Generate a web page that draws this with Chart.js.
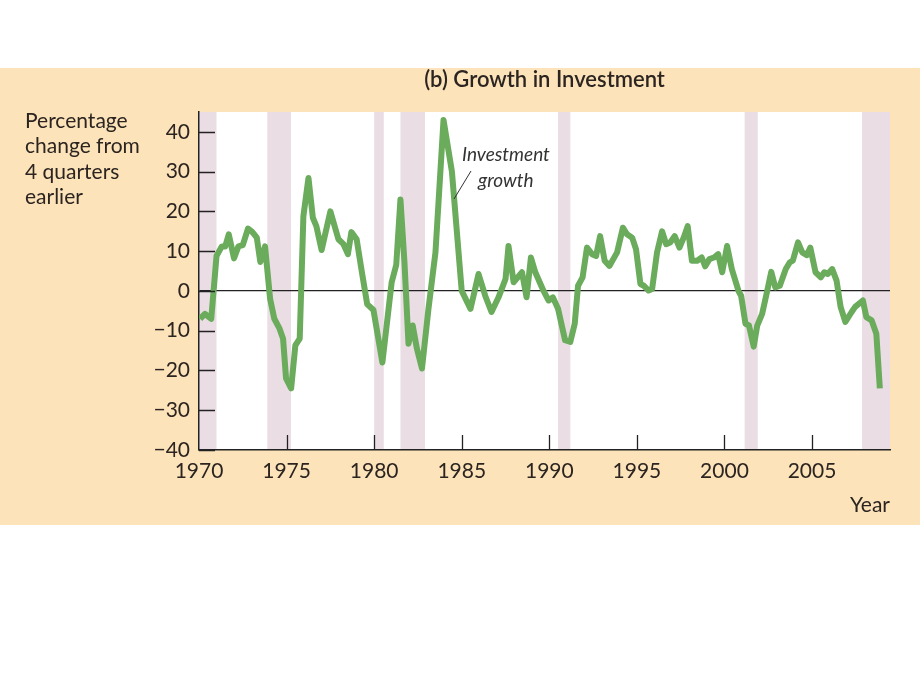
<!DOCTYPE html>
<html>
<head>
<meta charset="utf-8">
<script src="https://cdn.jsdelivr.net/npm/chart.js@4.4.0/dist/chart.umd.min.js"></script>
<style>
    body { margin: 0; background: #fff; }
    canvas { display: block; }
</style>
</head>
<body>
<canvas id="chart" width="920" height="690"></canvas>
<script>
// investment growth, % change from 4 quarters earlier
const years = [
    1970.06, 1970.34, 1970.7, 1971.0, 1971.3, 1971.5, 1971.7, 1972.0, 1972.25, 1972.5,
    1972.8, 1973.05, 1973.3, 1973.5, 1973.77, 1974.06, 1974.3, 1974.6, 1974.8, 1974.97,
    1975.26, 1975.5, 1975.75, 1975.96, 1976.25, 1976.5, 1976.7, 1977.0, 1977.5, 1977.96,
    1978.25, 1978.5, 1978.7, 1979.0, 1979.3, 1979.6, 1979.96, 1980.47, 1981.0, 1981.26,
    1981.5, 1981.73, 1981.96, 1982.2, 1982.44, 1982.73, 1983.1, 1983.5, 1983.96, 1984.44,
    1985.0, 1985.5, 1985.96, 1986.34, 1986.7, 1987.1, 1987.5, 1987.67, 1987.96, 1988.44,
    1988.7, 1988.95, 1989.2, 1989.67, 1989.96, 1990.2, 1990.5, 1990.9, 1991.2, 1991.45,
    1991.64, 1991.9, 1992.15, 1992.44, 1992.67, 1992.9, 1993.16, 1993.43, 1993.87, 1994.2,
    1994.44, 1994.73, 1994.95, 1995.2, 1995.4, 1995.67, 1995.87, 1996.15, 1996.44, 1996.67,
    1996.9, 1997.16, 1997.43, 1997.67, 1997.9, 1998.14, 1998.44, 1998.7, 1998.9, 1999.14,
    1999.4, 1999.64, 1999.87, 2000.15, 2000.42, 2000.8, 2000.95, 2001.2, 2001.4, 2001.67,
    2001.87, 2002.15, 2002.44, 2002.67, 2002.9, 2003.16, 2003.5, 2003.73, 2003.9, 2004.2,
    2004.44, 2004.7, 2004.9, 2005.2, 2005.5, 2005.7, 2005.9, 2006.15, 2006.4, 2006.63,
    2006.9, 2007.26, 2007.46, 2007.9, 2008.1, 2008.4, 2008.67, 2008.87,
];
const growth = [
    -7, -5.75, -7, 8.8, 11.2, 11.2, 14.25, 8.2, 11.2, 11.5,
    15.7, 14.8, 13.4, 7.3, 11.2, -2, -7, -9.5, -12, -22,
    -24.5, -13.7, -12, 18.8, 28.4, 18.4, 16.3, 10.3, 20, 13,
    11.75, 9.25, 14.8, 13, 4.7, -3.3, -4.8, -18, 2.2, 6.5,
    23, 7.2, -13.25, -8.7, -14.5, -19.5, -4.5, 9.7, 43, 30,
    0, -4.5, 4.25, -1.2, -5.3, -1.6, 3, 11.3, 2.2, 4.7,
    -1.6, 8.4, 4.7, 0, -2.4, -1.6, -4.5, -12.4, -12.8, -8.25,
    1.3, 3.4, 10.9, 9.25, 8.8, 13.8, 7.6, 6.3, 9.7, 15.9,
    14.25, 13.4, 10.5, 1.75, 1.3, 0.1, 0.5, 9.7, 15, 11.75,
    12.2, 13.8, 10.9, 13.4, 16.3, 7.6, 7.6, 8.4, 6.2, 8,
    8.4, 9.25, 4.7, 11.3, 5.5, 0, -1.2, -8.25, -8.7, -14,
    -8.7, -5.75, 0, 4.8, 0.9, 1.3, 5.5, 7.2, 7.6, 12.2,
    9.7, 9, 10.9, 4.7, 3.4, 4.7, 4.25, 5.5, 2.6, -4,
    -7.8, -5.3, -4, -2.4, -6.6, -7.4, -10.75, -24.5,
];

// recessions (shaded)
const recessionStart = [1969.9, 1973.9, 1980.0, 1981.5, 1990.5, 2001.15, 2007.85];
const recessionEnd = [1971.0, 1975.25, 1980.55, 1982.9, 1991.2, 2001.9, 2009.45];

const xTicks = [1970, 1975, 1980, 1985, 1990, 1995, 2000, 2005];
const yTicks = [-40, -30, -20, -10, 0, 10, 20, 30, 40];

const yLabelLines = ['Percentage', 'change from', '4 quarters', 'earlier'];

const FONT = 'Lato, "Open Sans", sans-serif';
const INK = '#2b2421';

const backdrop = {
    id: 'backdrop',
    beforeDraw(chart) {
        const { ctx, chartArea: a, scales: { x } } = chart;
        ctx.save();
        ctx.fillStyle = '#fff';
        ctx.fillRect(0, 0, chart.width, chart.height);
        ctx.fillStyle = '#fce3b9';
        ctx.fillRect(0, 68, chart.width, 457);
        ctx.fillStyle = '#fff';
        ctx.fillRect(a.left, a.top, a.right - a.left, a.bottom - a.top);
        ctx.fillStyle = '#eadde4';
        recessionStart.forEach((s, i) => {
            const x0 = Math.max(x.getPixelForValue(s), a.left);
            const x1 = Math.min(x.getPixelForValue(recessionEnd[i]), a.right);
            ctx.fillRect(x0, a.top, x1 - x0, a.bottom - a.top);
        });
        ctx.restore();
    },
    afterDraw(chart) {
        const { ctx, chartArea: a, scales: { x, y } } = chart;
        ctx.save();
        ctx.strokeStyle = '#222';
        ctx.lineWidth = 1.3;
        ctx.beginPath();
        xTicks.slice(1).forEach(v => {
            const px = Math.round(x.getPixelForValue(v)) + 0.5;
            ctx.moveTo(px, a.bottom);
            ctx.lineTo(px, a.bottom - 15);
        });
        yTicks.forEach(v => {
            const py = Math.round(y.getPixelForValue(v)) + 0.5;
            ctx.moveTo(a.left, py);
            ctx.lineTo(a.left + 16, py);
        });
        ctx.stroke();

        // title
        ctx.fillStyle = INK;
        ctx.textBaseline = 'middle';
        ctx.textAlign = 'center';
        ctx.font = '600 22px ' + FONT;
        ctx.fillText('(b) Growth in Investment', (a.left + a.right) / 2, 80);

        // y axis label
        ctx.textAlign = 'left';
        ctx.font = '21px ' + FONT;
        yLabelLines.forEach((t, i) => ctx.fillText(t, 25, 121 + i * 25.5));

        // x axis label
        ctx.textAlign = 'right';
        ctx.fillText('Year', 890, 505);

        // series annotation
        ctx.font = 'italic 19px ' + FONT;
        ctx.fillStyle = '#333';
        ctx.textAlign = 'left';
        ctx.fillText('Investment', 462, 155);
        ctx.fillText('growth', 478, 181);
        ctx.strokeStyle = '#333';
        ctx.lineWidth = 1;
        ctx.beginPath();
        ctx.moveTo(454, 199);
        ctx.lineTo(471, 171);
        ctx.stroke();
        ctx.restore();
    },
};

new Chart(document.getElementById('chart'), {
    type: 'line',
    data: {
        datasets: [
            {
                label: 'Investment growth',
                data: years.map((yr, i) => ({ x: yr, y: growth[i] })),
                borderColor: '#6aab5c',
                borderWidth: 6,
                borderJoinStyle: 'round',
                pointRadius: 0,
                tension: 0,
                fill: false,
            },
        ],
    },
    options: {
        responsive: false,
        animation: false,
        layout: { padding: { top: 112, right: 30, bottom: 190, left: 0 } },
        plugins: {
            legend: { display: false },
            tooltip: { enabled: false },
        },
        scales: {
            x: {
                type: 'linear',
                min: 1970,
                max: 2009.45,
                afterBuildTicks: s => { s.ticks = xTicks.map(v => ({ value: v })); },
                afterFit: s => {
                    s.height = 50;
                    s.paddingLeft = 0;
                    s.paddingRight = 0;
                },
                grid: { display: false },
                border: { display: true, color: '#222', width: 1.5 },
                ticks: {
                    padding: 1,
                    color: INK,
                    font: { family: FONT, size: 21 },
                    maxRotation: 0,
                    autoSkip: false,
                    callback: v => String(v),
                },
            },
            y: {
                min: -40,
                max: 45,
                afterBuildTicks: s => { s.ticks = yTicks.map(v => ({ value: v })); },
                afterFit: s => {
                    s.width = 199;
                    s.paddingTop = 0;
                    s.paddingBottom = 0;
                },
                grid: {
                    drawTicks: false,
                    color: c => (c.tick && c.tick.value === 0 ? '#222' : 'rgba(0,0,0,0)'),
                    lineWidth: 1.3,
                },
                border: { display: true, color: '#222', width: 1.5 },
                ticks: {
                    padding: 9,
                    color: INK,
                    font: { family: FONT, size: 21 },
                    callback: v => String(v).replace('-', '\u2212'),
                },
            },
        },
    },
    plugins: [backdrop],
});
</script>
</body>
</html>
